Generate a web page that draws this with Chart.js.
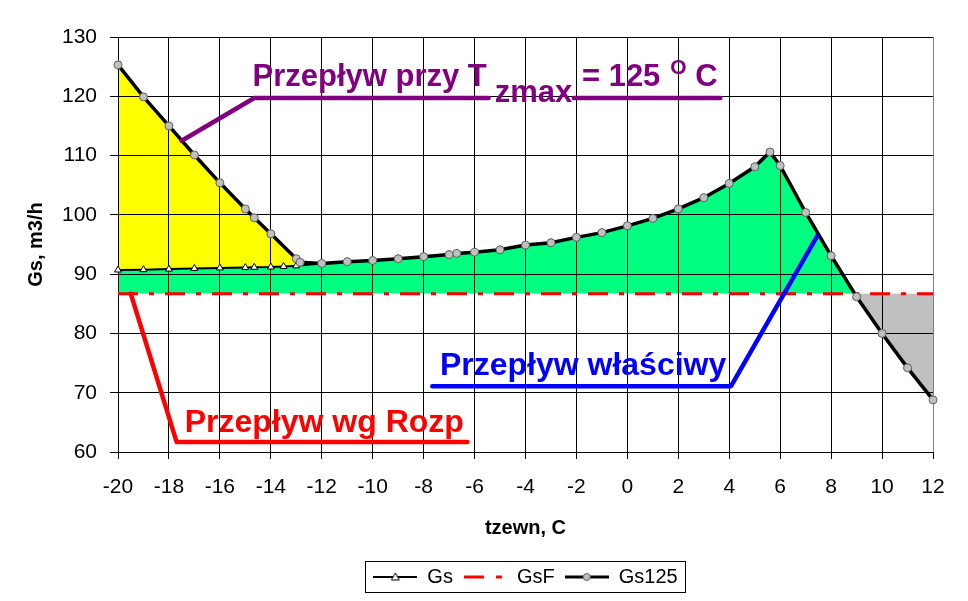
<!DOCTYPE html>
<html>
<head>
<meta charset="utf-8">
<script src="https://cdn.jsdelivr.net/npm/chart.js@4.4.0/dist/chart.umd.min.js"></script>
<style>
  html, body { margin: 0; padding: 0; background: #fff; }
  #wrap { width: 968px; height: 601px; }
</style>
</head>
<body>
<div id="wrap"><canvas id="chart" width="968" height="601"></canvas></div>
<script>
// tzewn, C  ->  Gs, m3/h
const tempsStart = [-20, -19, -18, -17, -16, -15, -14.65, -14];
const gsStart = [90.7, 90.75, 90.85, 90.95, 91.05, 91.1, 91.15, 91.2];
const gs125Start = [125.3, 119.9, 115.0, 110.1, 105.4, 101.0, 99.5, 96.8];

const tempsGsKnee = [-13.5, -13];
const gsKnee = [91.3, 91.4];
const tempsGs125Knee = [-13, -12.85];
const gs125Knee = [92.6, 92.0];

// both curves run together from here on
const tempsCommon = [-12, -11, -10, -9, -8, -7, -6.7, -6, -5, -4, -3, -2, -1, 0, 1, 2, 3, 4, 5, 5.6, 6, 7, 8, 9, 10, 11, 12];
const gsCommon = [91.8, 92.1, 92.3, 92.6, 92.95, 93.3, 93.5, 93.7, 94.1, 94.9, 95.3, 96.2, 97.0, 98.15, 99.4, 101.0, 102.9, 105.3, 108.1, 110.6, 108.3, 100.4, 93.1, 86.2, 80.0, 74.2, 68.8];

const tempsGsF = [-20, 12];
const gsF = [86.7, 86.7];

// legend order
const seriesNames = ['Gs', 'GsF', 'Gs125'];

const FONT = "'Liberation Sans', Arial, sans-serif";
Chart.defaults.font.family = FONT;
Chart.defaults.color = '#000';

function toPoints(xs, ys) {
  return xs.map((x, i) => ({ x: x, y: ys[i] }));
}

const gsPoints = toPoints(tempsStart.concat(tempsGsKnee, tempsCommon), gsStart.concat(gsKnee, gsCommon));
const gs125Points = toPoints(tempsStart.concat(tempsGs125Knee, tempsCommon), gs125Start.concat(gs125Knee, gsCommon));
const gsFPoints = toPoints(tempsGsF, gsF);

// legend symbols (line + marker)
function makeSymbol(draw) {
  const c = document.createElement('canvas');
  c.width = 44;
  c.height = 14;
  draw(c.getContext('2d'));
  return c;
}
const legendSymbols = {
  Gs: makeSymbol(ctx => {
    ctx.strokeStyle = '#000'; ctx.lineWidth = 2;
    ctx.beginPath(); ctx.moveTo(0, 7); ctx.lineTo(44, 7); ctx.stroke();
    ctx.fillStyle = '#fff'; ctx.lineWidth = 1;
    ctx.beginPath(); ctx.moveTo(22, 3); ctx.lineTo(26, 10); ctx.lineTo(18, 10); ctx.closePath();
    ctx.fill(); ctx.stroke();
  }),
  GsF: makeSymbol(ctx => {
    ctx.strokeStyle = '#f00'; ctx.lineWidth = 3;
    ctx.beginPath(); ctx.moveTo(1, 7); ctx.lineTo(21, 7); ctx.moveTo(33, 7); ctx.lineTo(39, 7); ctx.stroke();
  }),
  Gs125: makeSymbol(ctx => {
    ctx.strokeStyle = '#000'; ctx.lineWidth = 3;
    ctx.beginPath(); ctx.moveTo(0, 7); ctx.lineTo(44, 7); ctx.stroke();
    ctx.fillStyle = '#c0c0c0'; ctx.strokeStyle = '#606060'; ctx.lineWidth = 1;
    ctx.beginPath(); ctx.arc(22, 7, 3.5, 0, Math.PI * 2); ctx.fill(); ctx.stroke();
  })
};

// text callouts, positioned in data units
const callouts = [
  {
    color: '#800080',
    lines: [
      [[-17.5, 112.5], [-14.65, 119.7], [-5.45, 119.7]],
      [[-2.1, 119.7], [3.65, 119.7]]
    ],
    at: [-14.72, 121.7],
    parts: [
      { text: 'Przepływ przy T', size: 31, dy: 0 },
      { text: 'zmax', size: 31, dy: 16, gap: 8 },
      { text: ' = 125', size: 31, dy: 0, gap: 1 },
      { text: ' O', size: 21, dy: -12, gap: 4 },
      { text: ' C', size: 31, dy: 0 }
    ]
  },
  {
    color: '#0000ff',
    lines: [[[-7.66, 71.1], [4.07, 71.1], [7.45, 96.4]]],
    at: [-7.36, 73.0],
    parts: [{ text: 'Przepływ właściwy', size: 32, dy: 0 }]
  },
  {
    color: '#ff0000',
    lines: [[[-19.5, 86.7], [-17.7, 61.7], [-6.28, 61.7]]],
    at: [-17.38, 63.4],
    parts: [{ text: 'Przepływ wg Rozp', size: 32, dy: 0 }]
  }
];

const calloutPlugin = {
  id: 'callouts',
  afterDatasetsDraw(chart) {
    const ctx = chart.ctx;
    const xs = chart.scales.x, ys = chart.scales.y;
    ctx.save();
    callouts.forEach(c => {
      ctx.strokeStyle = c.color;
      ctx.fillStyle = c.color;
      ctx.lineWidth = 4.5;
      ctx.lineCap = 'round';
      ctx.lineJoin = 'round';
      c.lines.forEach(pts => {
        ctx.beginPath();
        pts.forEach((p, i) => {
          const px = xs.getPixelForValue(p[0]), py = ys.getPixelForValue(p[1]);
          if (i === 0) ctx.moveTo(px, py); else ctx.lineTo(px, py);
        });
        ctx.stroke();
      });
      let x = xs.getPixelForValue(c.at[0]);
      const y = ys.getPixelForValue(c.at[1]);
      ctx.textBaseline = 'alphabetic';
      ctx.textAlign = 'left';
      c.parts.forEach(p => {
        x += p.gap || 0;
        ctx.font = 'bold ' + p.size + 'px ' + FONT;
        ctx.fillText(p.text, x, y + p.dy);
        x += ctx.measureText(p.text).width;
      });
    });
    ctx.restore();
  }
};

const legendFrame = {
  id: 'legendFrame',
  afterDraw(chart) {
    const boxes = chart.legend && chart.legend.legendHitBoxes;
    if (!boxes || !boxes.length) return;
    const left = Math.min(...boxes.map(b => b.left)) - 8;
    const right = Math.max(...boxes.map(b => b.left + b.width)) + 8;
    const top = Math.min(...boxes.map(b => b.top)) - 6;
    const bottom = Math.max(...boxes.map(b => b.top + b.height)) + 5;
    const ctx = chart.ctx;
    ctx.save();
    ctx.strokeStyle = '#000';
    ctx.lineWidth = 1;
    ctx.strokeRect(Math.round(left) + 0.5, Math.round(top) + 0.5, Math.round(right - left), Math.round(bottom - top));
    ctx.restore();
  }
};

// dataset 0 can't be a fill target (filler skips index 0), so Gs125 goes first
new Chart(document.getElementById('chart'), {
  type: 'line',
  data: {
    datasets: [
      {
        label: 'Gs125',
        data: gs125Points,
        borderColor: '#000',
        borderWidth: 3.5,
        pointStyle: 'circle',
        pointRadius: 4,
        pointBackgroundColor: '#c0c0c0',
        pointBorderColor: '#606060',
        pointBorderWidth: 1,
        fill: { target: 1, above: '#ffff00', below: 'rgba(0,0,0,0)' },
        clip: false,
        order: 0
      },
      {
        label: 'Gs',
        data: gsPoints,
        borderColor: '#000',
        borderWidth: 2,
        pointStyle: 'triangle',
        pointRadius: 4,
        pointBackgroundColor: '#fff',
        pointBorderColor: '#000',
        pointBorderWidth: 1,
        fill: { target: 2, above: '#00ff80', below: '#c0c0c0' },
        clip: false,
        order: 1
      },
      {
        label: 'GsF',
        data: gsFPoints,
        borderColor: '#ff0000',
        borderWidth: 3,
        borderDash: [20, 11, 5, 11],
        pointRadius: 0,
        fill: false,
        clip: false,
        order: 2
      }
    ]
  },
  options: {
    responsive: false,
    animation: false,
    devicePixelRatio: 1,
    elements: { line: { tension: 0 } },
    layout: { padding: { left: 10, right: 35, top: 37, bottom: 4 } },
    scales: {
      x: {
        type: 'linear',
        min: -20,
        max: 12,
        afterFit: s => { s.height = 105; },
        ticks: { stepSize: 2, font: { size: 21 }, padding: 16, color: '#000' },
        grid: {
          color: ctx => (ctx.tick && ctx.tick.value === 12 ? '#808080' : '#000'),
          tickColor: '#000',
          tickLength: 7,
          lineWidth: 1
        },
        border: { color: '#000' },
        title: {
          display: true,
          text: 'tzewn, C',
          font: { size: 20, weight: 'bold' },
          padding: { top: 0, bottom: 17 }
        }
      },
      y: {
        min: 60,
        max: 130,
        afterFit: s => { s.width = 108; },
        ticks: { stepSize: 10, font: { size: 21 }, padding: 13, color: '#000' },
        grid: { color: '#000', tickColor: '#000', tickLength: 8, lineWidth: 1 },
        border: { color: '#000' },
        title: {
          display: true,
          text: 'Gs, m3/h',
          font: { size: 20, weight: 'bold' },
          padding: { top: 14, bottom: 0 }
        }
      }
    },
    plugins: {
      filler: { drawTime: 'beforeDraw' },
      tooltip: { enabled: false },
      legend: {
        position: 'bottom',
        fullSize: false,
        labels: {
          font: { size: 20 },
          color: '#000',
          usePointStyle: true,
          pointStyleWidth: 44,
          padding: 10,
          sort: (a, b) => seriesNames.indexOf(a.text) - seriesNames.indexOf(b.text),
          generateLabels: chart => {
            const items = Chart.defaults.plugins.legend.labels.generateLabels(chart);
            items.forEach(it => { it.pointStyle = legendSymbols[it.text]; });
            return items;
          }
        }
      }
    }
  },
  plugins: [calloutPlugin, legendFrame]
});
</script>
</body>
</html>
